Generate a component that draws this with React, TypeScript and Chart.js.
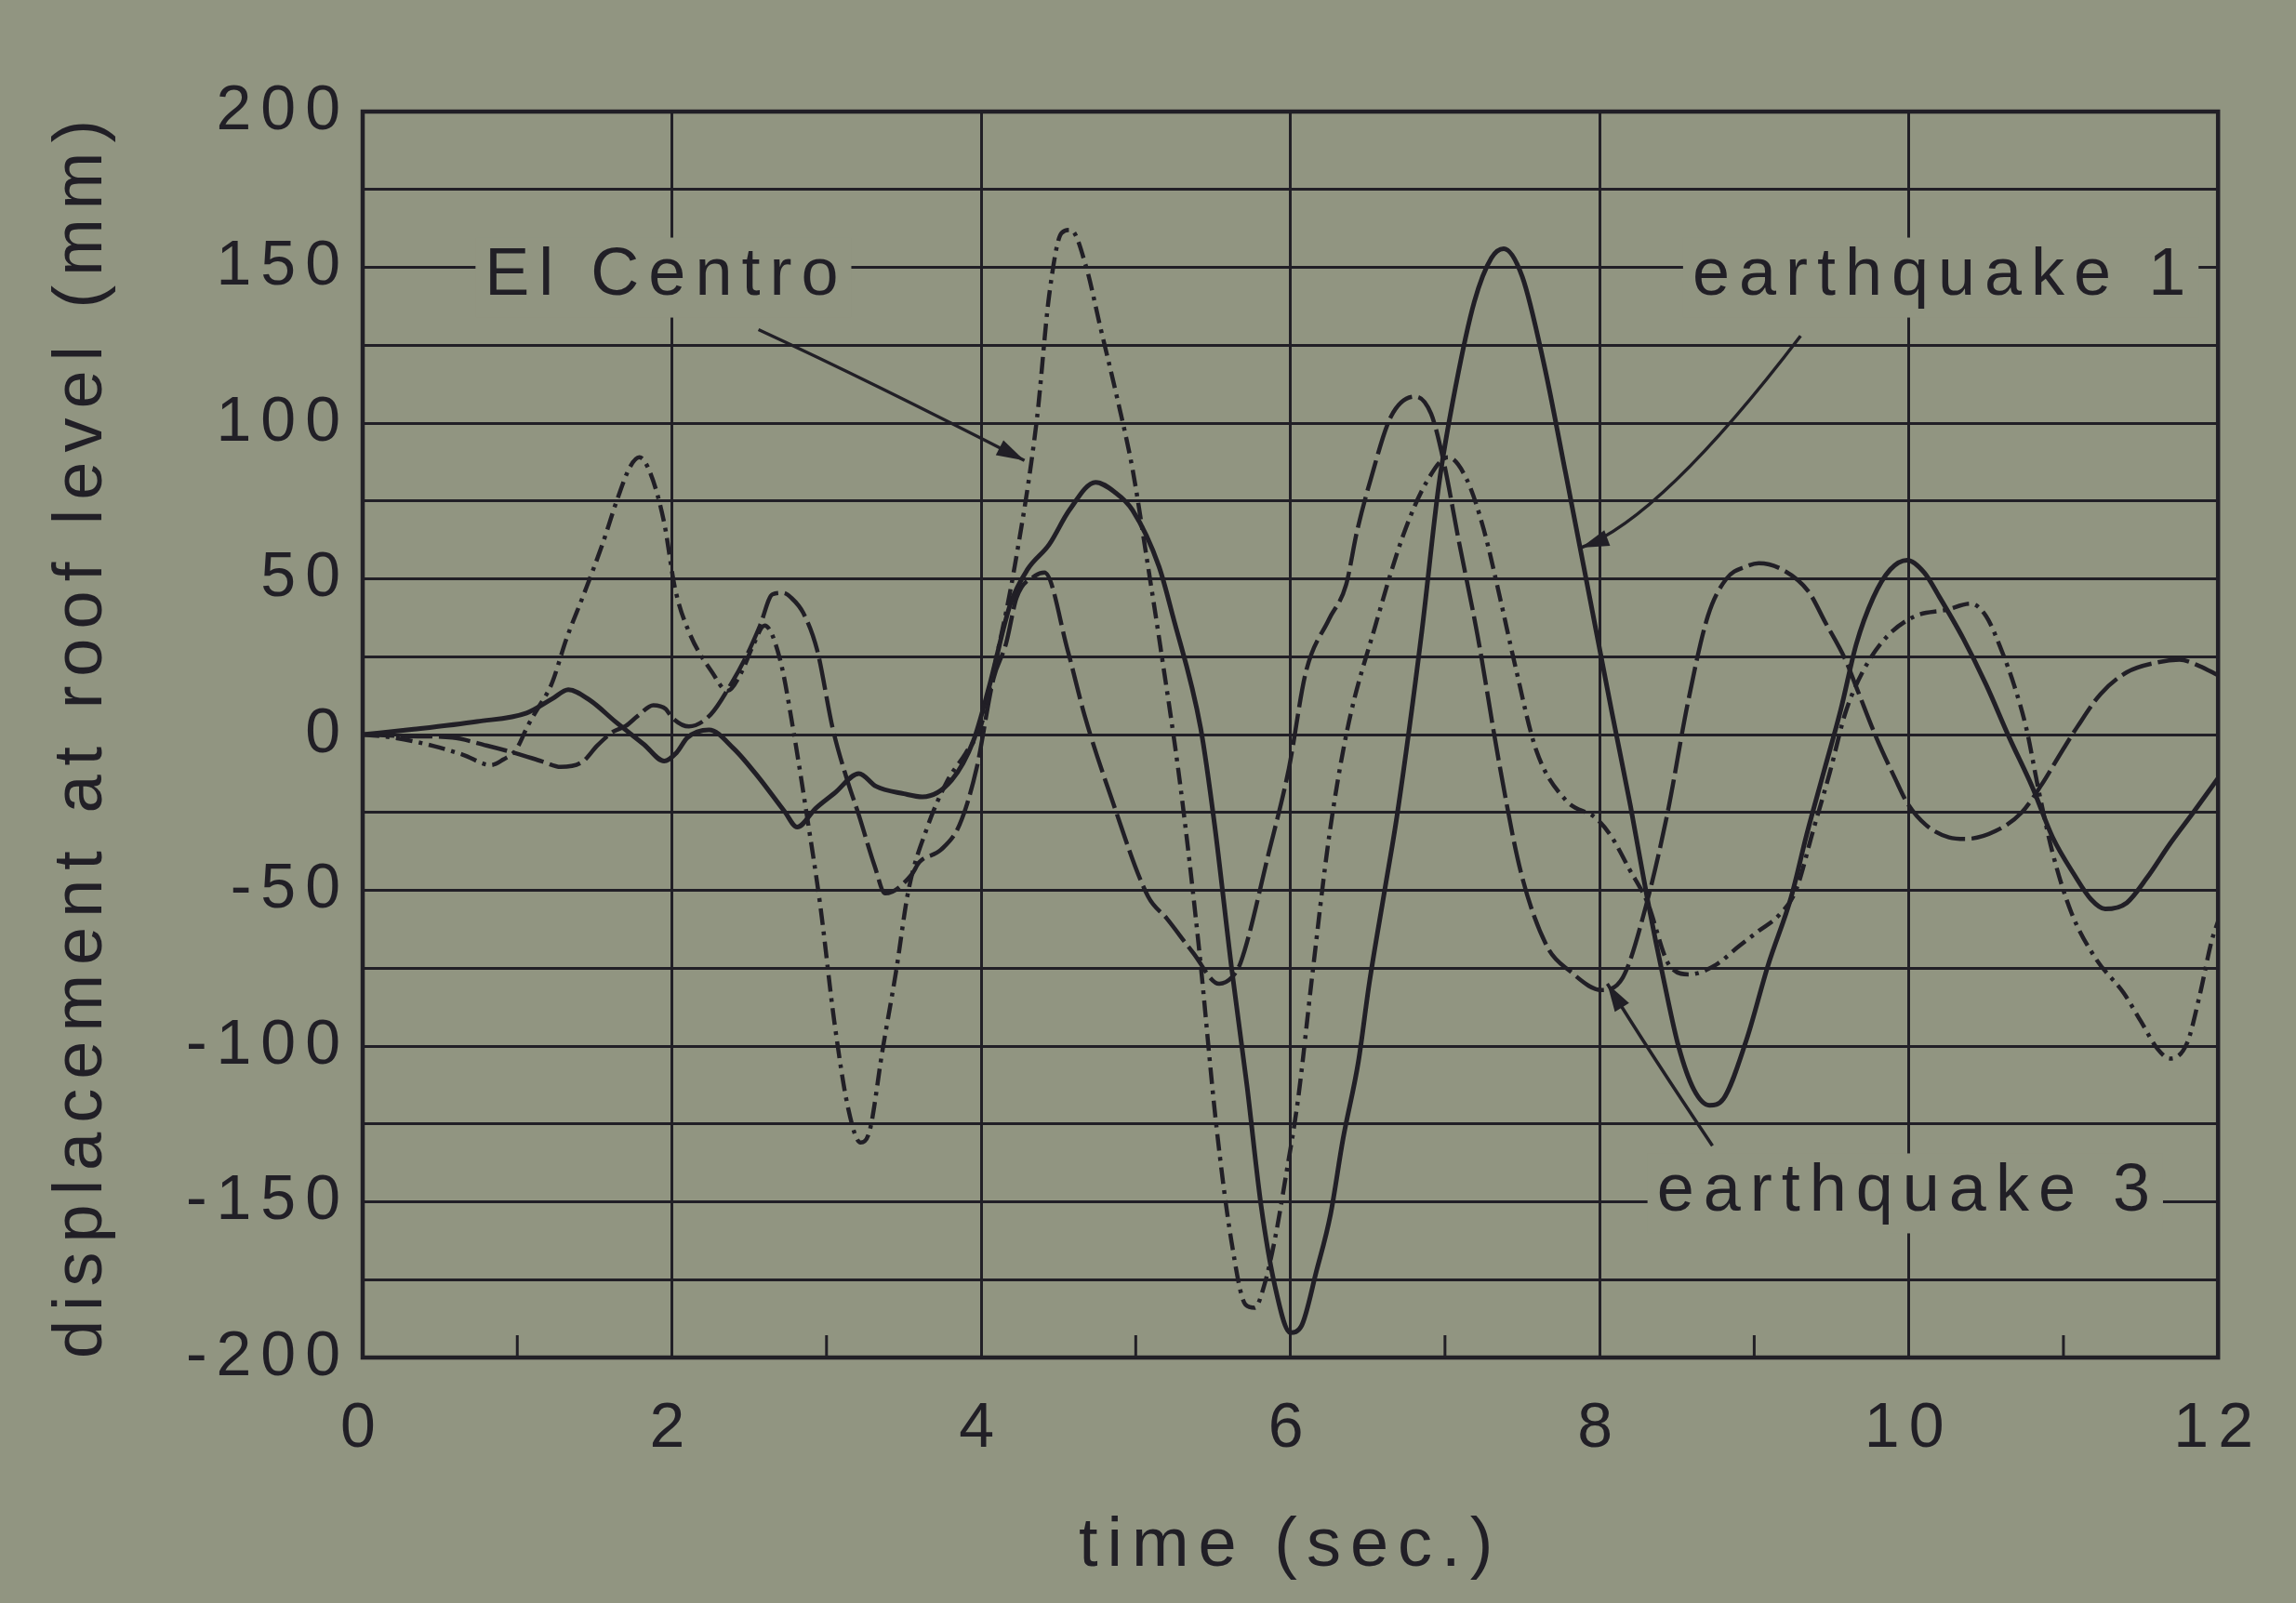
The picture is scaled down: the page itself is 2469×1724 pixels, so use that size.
import React, { useEffect, useRef } from "react";
import { Chart, registerables } from "chart.js";

Chart.register(...registerables);

// Roof-level displacement (mm) against time (s) for three ground motions.
const elCentroT = [0, 0.2, 0.46, 0.65, 0.83, 0.91, 0.99, 1.07, 1.14, 1.22, 1.32, 1.43, 1.55, 1.65, 1.73, 1.79, 1.86, 1.95, 2.02, 2.11, 2.26, 2.36, 2.45, 2.52, 2.6, 2.7, 2.79, 2.87, 2.96, 3.05, 3.14, 3.22, 3.28, 3.36, 3.45, 3.53, 3.65, 3.78, 3.9, 4.0, 4.1, 4.21, 4.36, 4.44, 4.52, 4.58, 4.68, 4.77, 4.88, 4.98, 5.07, 5.16, 5.29, 5.41, 5.52, 5.62, 5.71, 5.77, 5.83, 5.9, 5.97, 6.05, 6.14, 6.25, 6.37, 6.55, 6.73, 6.88, 7.02, 7.14, 7.25, 7.36, 7.45, 7.59, 7.78, 7.98, 8.08, 8.19, 8.31, 8.45, 8.58, 8.75, 8.9, 9.03, 9.16, 9.27, 9.38, 9.49, 9.59, 9.7, 9.85, 10.04, 10.24, 10.4, 10.5, 10.6, 10.68, 10.76, 10.84, 10.93, 11.05, 11.21, 11.39, 11.5, 11.61, 11.69, 11.8, 11.88, 11.96, 12];
const elCentroV = [0, -1, -3.7, -6.5, -9.8, -8, -5, 3, 9, 16, 31, 45, 61, 76, 86, 89, 84, 68, 47, 33, 20, 14, 20, 28, 35, 24, 0, -25, -55, -92, -120, -131, -127, -102, -76, -50, -30, -15, -6, 3, 25, 52, 101, 141, 161, 162, 150, 131, 108, 85, 57, 28, -17, -69, -125, -163, -183, -184, -177, -162, -142, -117, -78, -33, 2, 35, 64, 81, 89, 82, 66, 43, 23, -5, -21, -27, -33, -43, -54, -74, -77, -74, -68, -63, -58, -50, -31, -12, 7, 20, 31, 38, 40, 42, 38, 27, 16, 2, -18, -38, -57, -72, -83, -92, -101, -104, -99, -84, -66, -60];

const quake1T = [0, 0.33, 0.74, 1.06, 1.23, 1.33, 1.47, 1.64, 1.82, 1.95, 2.03, 2.1, 2.24, 2.4, 2.56, 2.73, 2.81, 2.93, 3.05, 3.21, 3.32, 3.5, 3.62, 3.81, 3.95, 4.05, 4.19, 4.3, 4.44, 4.57, 4.74, 4.86, 4.98, 5.15, 5.24, 5.42, 5.51, 5.62, 5.72, 5.81, 5.9, 6.0, 6.07, 6.17, 6.26, 6.34, 6.44, 6.51, 6.61, 6.69, 6.85, 6.96, 7.07, 7.19, 7.3, 7.38, 7.5, 7.64, 7.78, 7.94, 8.08, 8.2, 8.31, 8.42, 8.51, 8.61, 8.71, 8.8, 8.95, 9.09, 9.24, 9.34, 9.45, 9.56, 9.66, 9.77, 9.88, 9.99, 10.1, 10.2, 10.35, 10.5, 10.65, 10.8, 10.93, 11.07, 11.18, 11.27, 11.41, 11.54, 11.69, 11.84, 12];
const quake1V = [0, 1.7, 4.2, 6.9, 11.6, 14.4, 11, 3.9, -3.2, -8.5, -5.8, -1, 1.5, -4.5, -13.7, -24.8, -29.7, -23.7, -18.9, -12.5, -16.6, -19, -20, -14.6, -2, 15, 42, 53, 61, 72, 81, 78, 72, 54, 38, 2, -29, -75, -113, -151, -177, -192, -190, -172, -154, -130, -105, -80, -50, -26, 33, 80, 112, 139, 153, 156, 147, 119, 84, 43, 7, -23, -53, -80, -100, -114, -119, -117, -98, -74, -52, -32, -12, 8, 29, 44, 53, 56, 52, 44, 31, 16, -1, -17, -33, -45, -53, -56, -54, -46, -35, -25, -14];

const quake3T = [0, 0.3, 0.58, 0.8, 0.99, 1.16, 1.28, 1.42, 1.52, 1.62, 1.7, 1.78, 1.88, 1.96, 2.0, 2.11, 2.25, 2.38, 2.48, 2.57, 2.65, 2.72, 2.77, 2.85, 2.94, 3.04, 3.13, 3.21, 3.31, 3.38, 3.55, 3.6, 3.74, 3.86, 3.97, 4.08, 4.16, 4.23, 4.35, 4.41, 4.56, 4.67, 4.84, 5.08, 5.2, 5.37, 5.54, 5.62, 5.68, 5.86, 5.99, 6.1, 6.25, 6.36, 6.43, 6.52, 6.65, 6.81, 6.91, 6.99, 7.09, 7.21, 7.35, 7.49, 7.66, 7.81, 8.01, 8.15, 8.3, 8.44, 8.57, 8.7, 8.82, 8.95, 9.03, 9.18, 9.35, 9.46, 9.59, 9.67, 9.79, 9.91, 9.99, 10.11, 10.26, 10.37, 10.56, 10.73, 10.86, 10.97, 11.09, 11.24, 11.41, 11.59, 11.75, 11.88, 12];
const quake3V = [0, -0.5, -1, -3.5, -6, -8.6, -10.4, -8.8, -3.4, 0.9, 2.7, 6, 9.4, 8.2, 5.5, 2.6, 6.4, 16, 25, 35, 45, 45.5, 44, 39, 27, 2, -14, -26, -42, -51, -45, -41, -37, -29, -11, 18, 29, 44, 51, 52, 27, 6, -20, -52, -59, -70, -80, -78, -73, -38, -11, 20, 37, 48, 65, 82, 102, 108.5, 103, 88, 62, 32, -9, -44, -68, -76, -82, -78, -55, -25, 10, 38, 50, 54, 55, 53, 46, 36, 24, 14, -1, -14, -22, -29, -33, -33.5, -31, -25, -16, -7, 2.5, 13, 20, 23, 24, 22, 19];

const seriesNames = ["El Centro", "earthquake 1", "earthquake 3"];
const xTitle = "time (sec.)";
const yTitle = "displacement at roof level (mm)";

// Callout text anchors and leader curves (start, control, tip), in data units.
const callouts = [
  { text: seriesNames[0], at: [0.79, 147], leader: [[2.56, 130], [3.28, 113.5], [4.28, 88]] },
  { text: seriesNames[1], at: [8.6, 147], leader: [[9.3, 128], [8.4, 69.5], [7.88, 60]] },
  { text: seriesNames[2], at: [8.37, -147], leader: [[8.73, -132], [8.33, -102.5], [8.05, -80]] },
];

const W = 2469;
const H = 1724;
const PAPER = "#919581";
const INK = "#211f26";
const FONT = "'Liberation Sans', Arial, Helvetica, sans-serif";
const SPACING = "10px";

const toXY = (ts: number[], vs: number[]) => ts.map((t, i) => ({ x: t, y: vs[i] }));

const paperPlugin = {
  id: "paper",
  beforeLayout(chart: any) {
    chart.ctx.letterSpacing = SPACING;
  },
  beforeDraw(chart: any) {
    const { ctx, width, height } = chart;
    ctx.save();
    ctx.fillStyle = PAPER;
    ctx.fillRect(0, 0, width, height);
    ctx.restore();
    ctx.letterSpacing = SPACING;
  },
};

const framePlugin = {
  id: "frame",
  beforeDatasetsDraw(chart: any) {
    const { ctx, chartArea: a, scales } = chart;
    ctx.save();
    ctx.strokeStyle = INK;
    ctx.lineWidth = 4.5;
    ctx.strokeRect(a.left, a.top, a.right - a.left, a.bottom - a.top);
    // short inner ticks at the odd seconds
    ctx.lineWidth = 3;
    for (let t = 1; t < 12; t += 2) {
      const x = scales.x.getPixelForValue(t);
      ctx.beginPath();
      ctx.moveTo(x, a.bottom);
      ctx.lineTo(x, a.bottom - 24);
      ctx.stroke();
    }
    // series labels on a paper-coloured patch
    ctx.font = `72px ${FONT}`;
    ctx.textBaseline = "middle";
    ctx.textAlign = "left";
    for (const c of callouts) {
      const x = scales.x.getPixelForValue(c.at[0]);
      const y = scales.y.getPixelForValue(c.at[1]);
      const w = ctx.measureText(c.text).width;
      ctx.fillStyle = PAPER;
      ctx.fillRect(x - 10, y - 42, w + 14, 86);
      ctx.fillStyle = INK;
      ctx.fillText(c.text, x, y);
    }
    ctx.restore();
  },
  afterDatasetsDraw(chart: any) {
    const { ctx, scales } = chart;
    ctx.save();
    ctx.strokeStyle = INK;
    ctx.fillStyle = INK;
    ctx.lineWidth = 3.5;
    for (const c of callouts) {
      const p = c.leader.map(([t, v]) => [scales.x.getPixelForValue(t), scales.y.getPixelForValue(v)]);
      ctx.beginPath();
      ctx.moveTo(p[0][0], p[0][1]);
      ctx.quadraticCurveTo(p[1][0], p[1][1], p[2][0], p[2][1]);
      ctx.stroke();
      const dx = p[2][0] - p[1][0];
      const dy = p[2][1] - p[1][1];
      const len = Math.hypot(dx, dy) || 1;
      const ux = dx / len;
      const uy = dy / len;
      const L = 30;
      const hw = 9;
      ctx.beginPath();
      ctx.moveTo(p[2][0], p[2][1]);
      ctx.lineTo(p[2][0] - ux * L - uy * hw, p[2][1] - uy * L + ux * hw);
      ctx.lineTo(p[2][0] - ux * L + uy * hw, p[2][1] - uy * L - ux * hw);
      ctx.closePath();
      ctx.fill();
    }
    ctx.restore();
  },
};

export default function App() {
  const ref = useRef<HTMLCanvasElement | null>(null);

  useEffect(() => {
    if (!ref.current) return;
    const line = {
      borderColor: INK,
      pointRadius: 0,
      fill: false,
      cubicInterpolationMode: "monotone",
    };
    const chart = new Chart(ref.current, {
      type: "line",
      data: {
        datasets: [
          { ...line, label: seriesNames[0], data: toXY(elCentroT, elCentroV), borderWidth: 4.5, borderDash: [18, 7, 4, 7] },
          { ...line, label: seriesNames[1], data: toXY(quake1T, quake1V), borderWidth: 5 },
          { ...line, label: seriesNames[2], data: toXY(quake3T, quake3V), borderWidth: 4.5, borderDash: [34, 7] },
        ],
      } as any,
      options: {
        responsive: false,
        animation: false,
        devicePixelRatio: 1,
        layout: { padding: { top: 120, right: 49, left: 0, bottom: 0 } },
        plugins: { legend: { display: false }, tooltip: { enabled: false } },
        scales: {
          x: {
            type: "linear",
            min: 0,
            max: 12,
            border: { display: false },
            grid: { color: INK, lineWidth: 3, drawTicks: false },
            ticks: {
              stepSize: 2,
              padding: 36,
              color: INK,
              font: { family: FONT, size: 68 },
              callback: (v: any) => String(v),
            },
            title: {
              display: true,
              text: xTitle,
              color: INK,
              font: { family: FONT, size: 74 },
              padding: { top: 0, bottom: 16 },
            },
            afterFit: (s: any) => {
              s.height = 264;
            },
          },
          y: {
            type: "linear",
            min: -200,
            max: 200,
            border: { display: false },
            grid: { color: INK, lineWidth: 3, drawTicks: false },
            ticks: {
              stepSize: 25,
              autoSkip: false,
              padding: 14,
              color: INK,
              font: { family: FONT, size: 68 },
              callback: (v: any) => (Number(v) % 50 === 0 ? String(v) : ""),
            },
            title: {
              display: true,
              text: yTitle,
              color: INK,
              font: { family: FONT, size: 74 },
              padding: { top: 44, bottom: 0 },
            },
            afterFit: (s: any) => {
              s.width = 390;
            },
          },
        },
      } as any,
      plugins: [paperPlugin, framePlugin],
    });
    return () => chart.destroy();
  }, []);

  return (
    <div style={{ position: "fixed", left: 0, top: 0, width: W, height: H, background: PAPER }}>
      <canvas ref={ref} width={W} height={H} style={{ display: "block", width: W, height: H }} />
    </div>
  );
}
